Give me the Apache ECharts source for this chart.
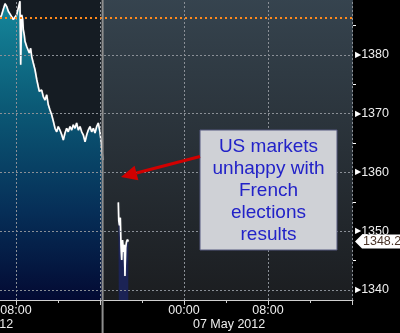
<!DOCTYPE html>
<html><head><meta charset="utf-8">
<script src="https://cdn.jsdelivr.net/npm/echarts@6/dist/echarts.min.js"></script>
<style>html,body{margin:0;padding:0;background:#000;overflow:hidden}#c{width:400px;height:333px}</style>
</head><body><div id="c"></div>
<script>
// ---- data (hours on a compressed trading-time axis; Fri 00:00 = 0, Mon 00:00 = 24) ----
const fridayHours = [6.48,6.64,6.79,6.96,7.12,7.27,7.43,7.59,7.75,7.91,8.07,8.22,8.38,8.45,8.55,8.64,8.70,8.79,8.86,9.02,9.18,9.27,9.40,9.50,9.65,9.81,9.98,10.22,10.45,10.60,10.77,10.93,11.08,11.24,11.40,11.56,11.72,11.88,12.03,12.19,12.36,12.51,12.67,12.83,12.98,13.15,13.31,13.46,13.62,13.78,13.94,14.10,14.26,14.41,14.58,14.74,14.89,15.05,15.21,15.37,15.53,15.69,15.84,16.00,16.17,16.26];
const fridayPrices = [1386.2,1386.8,1387.7,1388.7,1388.2,1387.4,1387.1,1386.5,1386.0,1385.7,1386.8,1387.1,1389.1,1378.3,1386.8,1386.0,1384.3,1383.4,1382.3,1381.4,1381.1,1380.3,1381.1,1379.7,1378.6,1377.5,1375.8,1373.8,1374.0,1372.9,1372.3,1373.2,1371.5,1370.6,1369.8,1368.7,1367.5,1366.9,1367.8,1367.2,1366.4,1365.5,1366.7,1367.5,1366.9,1367.8,1367.2,1368.1,1367.5,1368.4,1367.2,1367.8,1366.9,1366.4,1365.2,1366.4,1367.2,1367.8,1366.9,1367.5,1366.7,1367.8,1368.4,1366.9,1364.4,1362.1];
const mondayHours = [17.75,17.79,17.86,17.94,18.00,18.07,18.15,18.24,18.32,18.38,18.45,18.53,18.62,18.70];
const mondayPrices = [1354.9,1351.8,1351.0,1352.3,1347.7,1345.1,1348.5,1346.5,1347.7,1342.4,1347.2,1348.2,1348.6,1348.25];
const prevClose = 1386.3;
const lastPrice = 1348.25;
const sessionBreak = 16.25;
const xLabelHours = [8, 24, 32];
const xMajorTicks = [8, 16, 24, 32, 40];
const xMinorTicks = [12, 20, 28, 36];
const xGridHours = [8, 16, 24, 32, 40];
const yLabels = [1340, 1350, 1360, 1370, 1380, 1390];
const yMinorTicks = [1345, 1355, 1365, 1375, 1385];
const yGridValues = [1340, 1350, 1360, 1370, 1380];
const dateStarts = [0, 24];
const dateLabels = ['04 May 2012', '07 May 2012'];
const annotationLines = ['US markets', 'unhappy with', 'French', 'elections', 'results'];

const X_MIN = 6.48, X_MAX = 40.1, Y_MIN = 1338.3, Y_MAX = 1390;
const FONT = "'Liberation Sans', Arial, sans-serif";
const FS = 12.5;
const pair = (xs, ys) => xs.map((x, i) => [x, ys[i]]);
const fmtHour = v => String(((v % 24) + 24) % 24).padStart(2, '0') + ':00';

const chart = echarts.init(document.getElementById('c'), null, {renderer: 'canvas'});
const gridDash = {color: '#8a8f96', width: 1, type: [2, 2]};

chart.setOption({
  backgroundColor: '#000',
  animation: false,
  grid: {left: 0, right: 47, top: -4, bottom: 33, containLabel: false, outerBoundsMode: 'none'},
  xAxis: [{
    type: 'value', min: X_MIN, max: X_MAX, position: 'bottom',
    axisLine: {show: true, onZero: false, lineStyle: {color: '#d0d0d0', width: 1}},
    axisTick: {show: true, customValues: xMajorTicks, length: 5, lineStyle: {color: '#d0d0d0'}},
    axisLabel: {customValues: xLabelHours, formatter: fmtHour, color: '#eeeeee', fontSize: FS, fontFamily: FONT, margin: 4},
    splitLine: {show: false}
  }, {
    type: 'value', min: X_MIN, max: X_MAX, position: 'bottom',
    axisLine: {show: false},
    axisTick: {show: true, customValues: xMinorTicks, length: 3, lineStyle: {color: '#d0d0d0'}},
    axisLabel: {show: false}, splitLine: {show: false}
  }],
  yAxis: {
    type: 'value', min: Y_MIN, max: Y_MAX, position: 'right',
    axisLine: {show: false},
    axisTick: {show: true, customValues: yMinorTicks, length: 3, lineStyle: {color: '#ffffff'}},
    axisLabel: {
      customValues: yLabels, margin: 2,
      formatter: v => '{t|\u25B6}{n|' + v + '}',
      rich: {t: {fontSize: 8, color: '#ffffff', fontFamily: 'DejaVu Sans'},
             n: {fontSize: FS, color: '#eeeeee', fontFamily: FONT}}
    },
    splitLine: {show: false}
  },
  series: [
    {type: 'line', z: 0, data: [], silent: true,
     markArea: {silent: true, data: [
       [{xAxis: X_MIN, itemStyle: {color: '#151c23'}}, {xAxis: sessionBreak}],
       [{xAxis: sessionBreak, itemStyle: {color: new echarts.graphic.LinearGradient(0, 0, 0, 1, [
         {offset: 0, color: '#36444f'}, {offset: 1, color: '#1b1d20'}])}}, {xAxis: X_MAX}]
     ]}},
    {type: 'line', z: 1, data: pair(fridayHours, fridayPrices), showSymbol: false, silent: true,
     lineStyle: {width: 0}, areaStyle: {origin: 'start', opacity: 1,
       color: new echarts.graphic.LinearGradient(0, 0, 0, 1, [
         {offset: 0, color: '#15889c'}, {offset: 0.35, color: '#0b5a76'},
         {offset: 0.7, color: '#062f58'}, {offset: 1, color: '#030a33'}])}},
    {type: 'line', z: 1, data: pair(mondayHours, mondayPrices), showSymbol: false, silent: true,
     lineStyle: {width: 0}, areaStyle: {origin: 'start', opacity: 1, color: '#1b2355'}},
    {type: 'line', z: 2, data: [], silent: true,
     markLine: {silent: true, symbol: 'none', label: {show: false}, animation: false,
       data: yGridValues.map(v => ({yAxis: v, lineStyle: gridDash}))
         .concat(xGridHours.map(v => ({xAxis: v, lineStyle: gridDash})))
         .concat([{yAxis: prevClose, lineStyle: {color: '#ff8a1c', width: 2, type: [2, 3]}}])}},
    {type: 'line', z: 3, data: pair(fridayHours, fridayPrices), showSymbol: false, silent: true,
     lineStyle: {color: '#ffffff', width: 1.6, shadowColor: 'rgba(160,160,160,0.7)', shadowBlur: 1}},
    {type: 'line', z: 3, data: pair(mondayHours, mondayPrices), showSymbol: false, silent: true,
     lineStyle: {color: '#ffffff', width: 1.6, shadowColor: 'rgba(160,160,160,0.7)', shadowBlur: 1}}
  ]
});

// ---- overlays positioned through the chart's own scales ----
const px = (x, y) => chart.convertToPixel({gridIndex: 0}, [x, y]);
const breakX = px(sessionBreak, Y_MIN)[0];
const lastY = px(X_MAX, lastPrice)[1];
const plotRight = px(X_MAX, Y_MIN)[0];
const plotBottom = px(X_MIN, Y_MIN)[1];

const graphics = [];
graphics.push({type: 'line', z: 50, shape: {x1: breakX, y1: 0, x2: breakX, y2: 333},
  style: {stroke: '#8e8e8e', lineWidth: 2}});
dateStarts.forEach((h, i) => {
  graphics.push({type: 'text', z: 50, x: px(h, Y_MIN)[0] + 9, y: plotBottom + 25,
    style: {text: dateLabels[i], fill: '#eeeeee', font: FS + 'px ' + FONT, textAlign: 'left', textVerticalAlign: 'middle'}});
});
// last price tag
graphics.push({type: 'group', z: 60, x: plotRight + 2, y: lastY, children: [
  {type: 'polygon', shape: {points: [[0, 0], [7, -7], [60, -7], [60, 7], [7, 7]]}, style: {fill: '#ffffff'}},
  {type: 'text', x: 8, y: 0, style: {text: String(lastPrice), fill: '#4a3428', font: FS + 'px ' + FONT, textVerticalAlign: 'middle'}}
]});
// annotation box
graphics.push({type: 'rect', z: 70, shape: {x: 200, y: 130, width: 137, height: 120},
  style: {fill: '#cfd1d6', stroke: '#55597e', lineWidth: 1}});
graphics.push({type: 'text', z: 71, x: 268.5, y: 191,
  style: {text: annotationLines.join('\n'), fill: '#2222c8', font: '19px "Liberation Sans", Arial, sans-serif',
          textAlign: 'center', textVerticalAlign: 'middle', lineHeight: 22}});
// arrow
const tail = [200, 156.5], tip = [121, 177];
const dx = tip[0] - tail[0], dy = tip[1] - tail[1], L = Math.hypot(dx, dy);
const ux = dx / L, uy = dy / L, nx = -uy, ny = ux;
const base = [tip[0] - ux * 16, tip[1] - uy * 16];
graphics.push({type: 'line', z: 72, shape: {x1: tail[0], y1: tail[1], x2: base[0], y2: base[1]},
  style: {stroke: '#d10000', lineWidth: 3}});
graphics.push({type: 'polygon', z: 72, shape: {points: [tip, [base[0] + nx * 7.5, base[1] + ny * 7.5], [base[0] - nx * 7.5, base[1] - ny * 7.5]]},
  style: {fill: '#d10000'}});
chart.setOption({graphic: graphics});
</script>
</body></html>
